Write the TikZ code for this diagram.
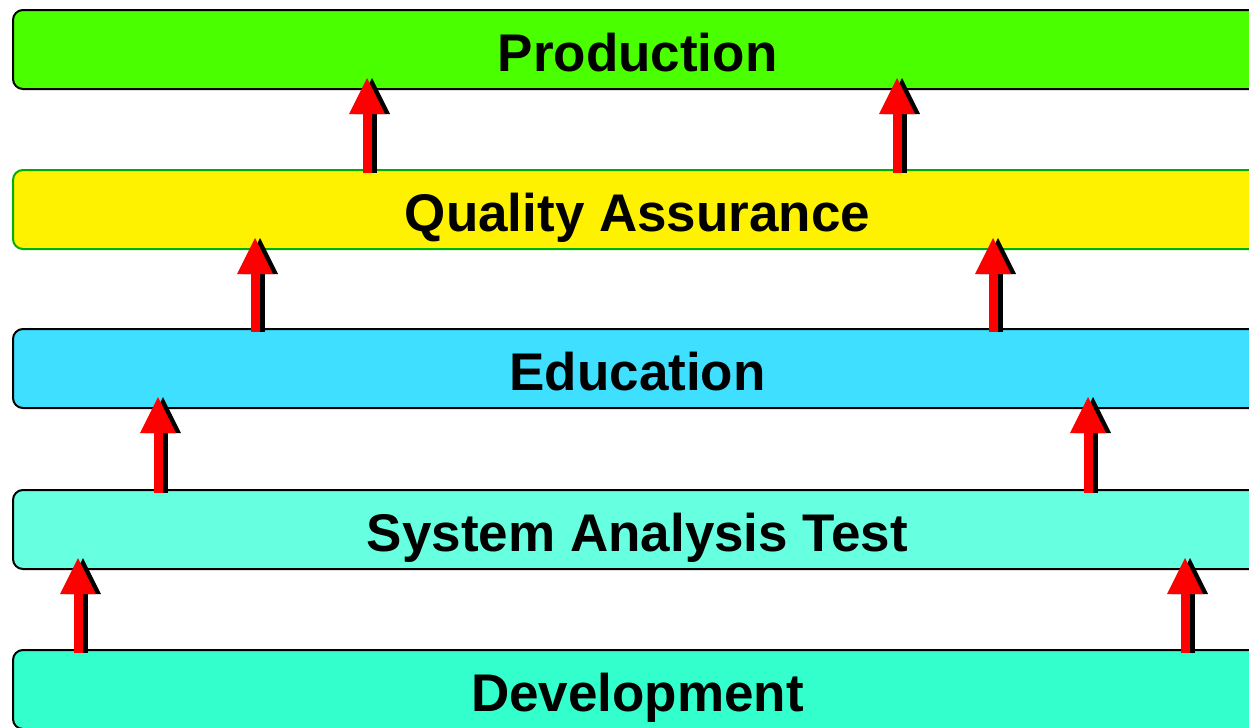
\documentclass[tikz,border=0pt]{standalone}
\usepackage{fontspec}
\setmainfont{Liberation Sans}
\usetikzlibrary{arrows.meta,calc}
\definecolor{prodgreen}{RGB}{74,255,0}
\definecolor{qaborder}{RGB}{0,176,0}
\definecolor{educyan}{RGB}{63,224,255}
\definecolor{satgreen}{RGB}{102,255,224}
\definecolor{devgreen}{RGB}{51,255,204}
\begin{document}
\begin{tikzpicture}[
    x			= 0.5pt,
    y			= -0.5pt,
    layer/.style	= {draw=black, line width=1pt, rounded corners=5pt,
			   minimum width=624.5pt, minimum height=39.5pt,
			   text height=30.5pt, text depth=9pt,
			   inner sep=0pt, font=\fontsize{26.5}{30}\selectfont\bfseries},
    uparrow/.style	= {line width=4.5pt, line cap=butt,
			   -{Triangle[length=18pt, width=18pt, line width=0pt]}}
  ]
% frame
\useasboundingbox (0,0) rectangle (1249,728);
\clip (0,0) rectangle (1249,728);
\fill[white] (0,0) rectangle (1249,728);
% layers
\node[layer, fill=prodgreen] (prod) at (637.5,49.5) {Production};
\node[layer, fill=yellow, draw=qaborder] (qa) at (637.5,209.5) {Quality Assurance};
\node[layer, fill=educyan] (edu) at (637.5,368.5) {Education};
\node[layer, fill=satgreen] (sat) at (637.5,529.5) {System Analysis Test};
\node[layer, fill=devgreen] (dev) at (637.5,689.5) {Development};
% arrows with shadow
\foreach \lo/\hi/\xa in {qa/prod/367, qa/prod/897, edu/qa/255, edu/qa/993,
    sat/edu/158, sat/edu/1088, dev/sat/78, dev/sat/1185}{
  \draw[uparrow, black, shift={(5,5)}] ($(\xa,0 |- \lo.north)+(0,4)$) -- ($(\xa,0 |- \hi.south)+(0,-12)$);
  \draw[uparrow, red] ($(\xa,0 |- \lo.north)+(0,4)$) -- ($(\xa,0 |- \hi.south)+(0,-12)$);
}
%
\end{tikzpicture}
\end{document}
